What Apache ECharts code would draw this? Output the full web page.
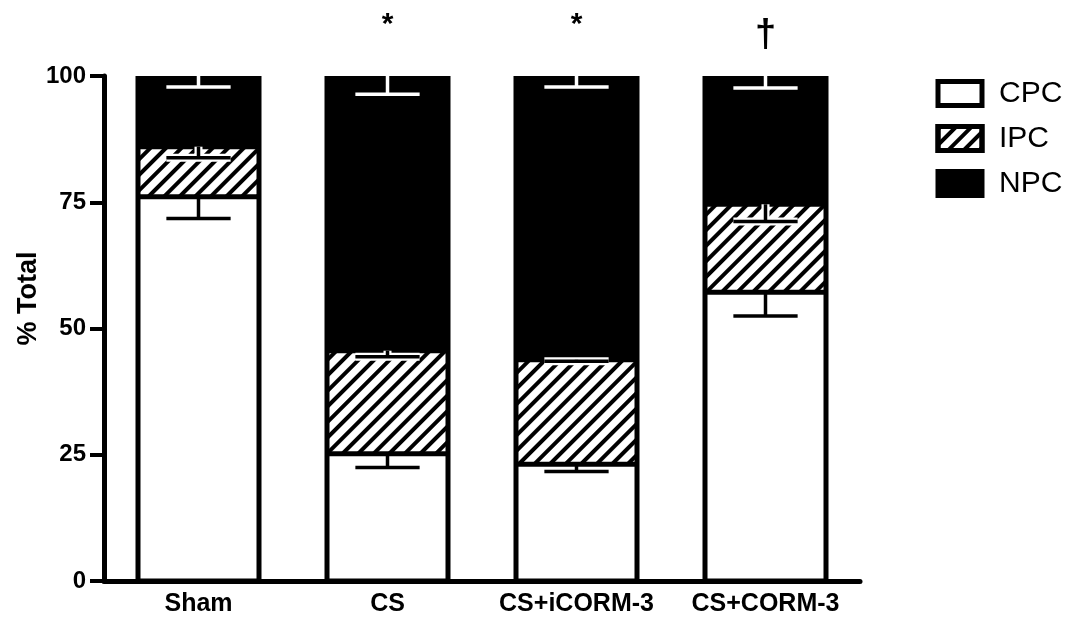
<!DOCTYPE html>
<html>
<head>
<meta charset="utf-8">
<script src="https://cdn.jsdelivr.net/npm/echarts@6/dist/echarts.min.js"></script>
<style>
html,body{margin:0;padding:0;background:#fff;}
#c{width:1077px;height:617px;}
</style>
</head>
<body>
<div id="c"></div>
<script>
// ---- data ----
const categories = ['Sham', 'CS', 'CS+iCORM-3', 'CS+CORM-3'];
const cpc = [76.1, 25.2, 23.1, 57.2];
const ipc = [9.9, 20.4, 20.7, 17.4];
const npc = [14.0, 54.4, 56.2, 25.4];
const cpcErr = [4.3, 2.7, 1.4, 4.7];
const ipcErr = [2.2, 1.2, 0.3, 3.4];
const npcErr = [2.2, 3.6, 2.2, 2.4];
const sigMarks = ['', '*', '*', '\u2020'];
const yTicks = [0, 25, 50, 75, 100];

const FONT = '"Liberation Sans", Arial, Helvetica, sans-serif';
const BAR_W = 121;

// stack tops
const cpcTop = cpc.map(v => v);
const ipcTop = cpc.map((v, i) => v + ipc[i]);
const npcTop = cpc.map((v, i) => v + ipc[i] + npc[i]);

function errData(tops, errs) {
  return tops.map((t, i) => [i, t, t - errs[i]]);
}

function errRender(color, halo) {
  return function (params, api) {
    const idx = api.value(0);
    const top = api.coord([idx, api.value(1)]);
    const bot = api.coord([idx, api.value(2)]);
    const half = api.size([1, 0])[0] * 0.17;
    const children = [];
    const shapes = [
      { x1: top[0], y1: top[1], x2: bot[0], y2: bot[1] },
      { x1: bot[0] - half, y1: bot[1], x2: bot[0] + half, y2: bot[1] }
    ];
    if (halo) {
      shapes.forEach(s => children.push({ type: 'line', shape: s, style: { stroke: '#fff', lineWidth: 8 } }));
    }
    shapes.forEach(s => children.push({ type: 'line', shape: s, style: { stroke: color, lineWidth: 3.5, lineCap: 'butt' } }));
    return { type: 'group', children: children };
  };
}

function outlineRender(params, api) {
  const idx = api.value(0);
  const p0 = api.coord([idx, 0]);
  const p1 = api.coord([idx, api.value(1)]);
  const p2 = api.coord([idx, api.value(2)]);
  const p3 = api.coord([idx, api.value(3)]);
  const hw = BAR_W / 2;
  const st = { stroke: '#000', lineWidth: 5, fill: null };
  const topY = p3[1] + 2.5;
  return {
    type: 'group',
    children: [
      { type: 'rect', shape: { x: p0[0] - hw, y: topY, width: BAR_W, height: p0[1] - topY }, style: st },
      { type: 'line', shape: { x1: p1[0] - hw, y1: p1[1], x2: p1[0] + hw, y2: p1[1] }, style: { stroke: '#000', lineWidth: 5 } },
      { type: 'line', shape: { x1: p2[0] - hw, y1: p2[1], x2: p2[0] + hw, y2: p2[1] }, style: { stroke: '#000', lineWidth: 5 } }
    ]
  };
}

const chart = echarts.init(document.getElementById('c'));
const barBase = { type: 'bar', stack: 'total', barWidth: BAR_W, animation: false };

chart.setOption({
  backgroundColor: '#fff',
  animation: false,
  grid: { left: 104, right: 217, top: 76, bottom: 34, containLabel: false },
  legend: {
    orient: 'vertical',
    left: 935.5,
    top: 78.5,
    padding: 0,
    itemGap: 15,
    itemWidth: 44,
    itemHeight: 24,
    icon: 'rect',
    selectedMode: false,
    itemStyle: { borderColor: '#000', borderWidth: 5 },
    textStyle: { fontFamily: FONT, fontSize: 30, color: '#000', lineHeight: 30, padding: [0, 0, 0, 12] },
    data: ['CPC', 'IPC', 'NPC']
  },
  xAxis: {
    type: 'category',
    data: categories,
    axisLine: { show: true, lineStyle: { color: '#000', width: 5 } },
    axisTick: { show: false },
    axisLabel: { color: '#000', fontFamily: FONT, fontWeight: 'bold', fontSize: 25, margin: 11, interval: 0 },
    splitLine: { show: false }
  },
  yAxis: {
    type: 'value',
    min: 0, max: 100, interval: 25,
    name: '% Total',
    nameLocation: 'middle',
    nameGap: 62,
    nameMoveOverlap: false,
    nameTextStyle: { color: '#000', fontFamily: FONT, fontWeight: 'bold', fontSize: 27, padding: [0, 0, 0, 60] },
    axisLine: { show: true, lineStyle: { color: '#000', width: 5 } },
    axisTick: { show: true, inside: false, length: 14, lineStyle: { color: '#000', width: 4 } },
    axisLabel: { color: '#000', fontFamily: FONT, fontWeight: 'bold', fontSize: 24, margin: 18,
      formatter: v => yTicks.indexOf(v) >= 0 ? String(v) : '' },
    splitLine: { show: false }
  },
  series: [
    Object.assign({}, barBase, {
      name: 'CPC', data: cpc,
      itemStyle: { color: '#fff', borderWidth: 0 }
    }),
    Object.assign({}, barBase, {
      name: 'IPC', data: ipc,
      itemStyle: {
        color: '#fff', borderWidth: 0,
        decal: { color: '#000', symbol: 'rect', dashArrayX: [1, 0], dashArrayY: [4, 7], rotation: -Math.PI / 4 }
      }
    }),
    Object.assign({}, barBase, {
      name: 'NPC',
      data: npc.map((v, i) => ({
        value: v,
        label: sigMarks[i] === '*'
          ? { show: true, position: 'top', distance: 36, formatter: sigMarks[i], fontSize: 30, fontWeight: 'bold', fontFamily: FONT, color: '#000' }
          : sigMarks[i]
          ? { show: true, position: 'top', distance: 21, formatter: sigMarks[i], fontSize: 38, fontWeight: 'bold', fontFamily: FONT, color: '#000' }
          : { show: false }
      })),
      itemStyle: { color: '#000', borderWidth: 0 }
    }),
    {
      type: 'custom', name: 'outline', z: 5, silent: true,
      renderItem: outlineRender,
      data: categories.map((c, i) => [i, cpcTop[i], ipcTop[i], npcTop[i]])
    },
    {
      type: 'custom', name: 'cpcErr', z: 10, silent: true,
      renderItem: errRender('#000', false), data: errData(cpcTop, cpcErr)
    },
    {
      type: 'custom', name: 'ipcErr', z: 10, silent: true,
      renderItem: errRender('#000', true), data: errData(ipcTop, ipcErr)
    },
    {
      type: 'custom', name: 'npcErr', z: 10, silent: true,
      renderItem: errRender('#fff', false), data: errData(npcTop, npcErr)
    }
  ]
});
</script>
</body>
</html>
